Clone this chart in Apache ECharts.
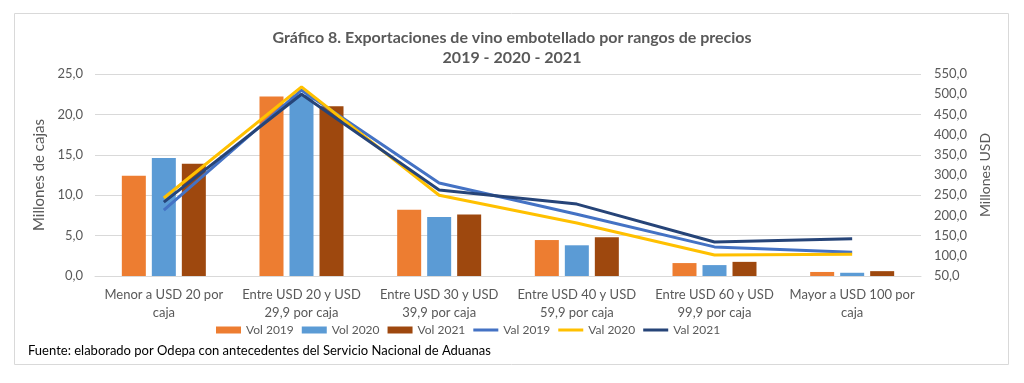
<!DOCTYPE html>
<html><head><meta charset="utf-8">
<script src="https://cdn.jsdelivr.net/npm/echarts@6/dist/echarts.min.js"></script>
<style>html,body{margin:0;padding:0;background:#fff}#c{width:1024px;height:383px}</style>
</head><body><div id="c"></div>
<script>
const categories = ['Menor a USD 20 por\ncaja','Entre USD 20 y USD\n29,9 por caja','Entre USD 30 y USD\n39,9 por caja','Entre USD 40 y USD\n59,9 por caja','Entre USD 60 y USD\n99,9 por caja','Mayor a USD 100 por\ncaja'];
const vol2019 = [12.4, 22.2, 8.2, 4.45, 1.6, 0.5];
const vol2020 = [14.6, 22.4, 7.3, 3.8, 1.35, 0.4];
const vol2021 = [13.9, 21.0, 7.6, 4.8, 1.75, 0.6];
const val2019 = [213, 510, 280, 203, 122, 109];
const val2020 = [243, 518, 250, 181, 102, 104];
const val2021 = [233, 500, 263, 228, 134, 142];
const titleLines = 'Gráfico 8. Exportaciones de vino embotellado por rangos de precios\n2019 - 2020 - 2021';
const sourceText = 'Fuente: elaborado por Odepa con antecedentes del Servicio Nacional de Aduanas';

const FONT = 'Lato';
const GREY = '#595959';
const LINE_ICON = 'path://M0,0h1v0h-1zM0,7h1v0h-1zM0,2h27v3h-27z';
const chart = echarts.init(document.getElementById('c'));
const fmt = v => v.toFixed(1).replace('.', ',');
const barS = (name, data, color) => ({name, type:'bar', data, yAxisIndex:0, barWidth:24, barGap:'25%', itemStyle:{color}, z:2});
const lineS = (name, data, color) => ({name, type:'line', data, yAxisIndex:1, symbol:'none', lineStyle:{color, width:3}, itemStyle:{color}, z:3});
chart.setOption({
  animation:false,
  textStyle:{fontFamily:FONT},
  graphic:[
    {type:'rect', shape:{x:14.5,y:13.5,width:994,height:351}, style:{fill:'none', stroke:'#d9d9d9', lineWidth:1}},
    {type:'text', x:512, y:28, style:{text:titleLines, font:'bold 16px '+FONT, fill:GREY, textAlign:'center', lineHeight:20}},
    {type:'text', left:28, top:344, style:{text:sourceText, font:'13px '+FONT, fill:'#000'}}
  ],
  legend:{left:216, top:324, padding:0, itemWidth:25, itemHeight:7, itemGap:8,
    textStyle:{fontFamily:FONT, fontSize:12, color:GREY},
    data:[
      {name:'Vol 2019', icon:'rect'},{name:'Vol 2020', icon:'rect'},{name:'Vol 2021', icon:'rect'},
      {name:'Val 2019', icon:LINE_ICON},{name:'Val 2020', icon:LINE_ICON},{name:'Val 2021', icon:LINE_ICON}
    ]},
  grid:{left:95, right:103, top:74, bottom:107},
  xAxis:{type:'category', data:categories,
    axisLine:{lineStyle:{color:'#d9d9d9'}}, axisTick:{show:false},
    axisLabel:{fontFamily:FONT, fontSize:13, color:GREY, lineHeight:18, margin:10, interval:0}},
  yAxis:[
    {type:'value', min:0, max:25, interval:5, name:'Millones de cajas', nameLocation:'middle', nameGap:42, nameRotate:90,
      nameTextStyle:{fontFamily:FONT, fontSize:15, color:GREY},
      axisLabel:{formatter:fmt, fontFamily:FONT, fontSize:13, color:GREY, margin:12},
      axisLine:{show:false}, axisTick:{show:false},
      splitLine:{lineStyle:{color:'#d9d9d9'}}},
    {type:'value', min:50, max:550, interval:50, name:'Millones USD', nameLocation:'middle', nameGap:56, nameRotate:90,
      nameTextStyle:{fontFamily:FONT, fontSize:14, color:GREY},
      axisLabel:{formatter:fmt, fontFamily:FONT, fontSize:13, color:GREY, margin:13},
      axisLine:{show:false}, axisTick:{show:false}, splitLine:{show:false}}
  ],
  series:[
    barS('Vol 2019', vol2019, '#ED7D31'),
    barS('Vol 2020', vol2020, '#5B9BD5'),
    barS('Vol 2021', vol2021, '#9E480E'),
    lineS('Val 2019', val2019, '#4472C4'),
    lineS('Val 2020', val2020, '#FFC000'),
    lineS('Val 2021', val2021, '#264478')
  ]
});
</script></body></html>
